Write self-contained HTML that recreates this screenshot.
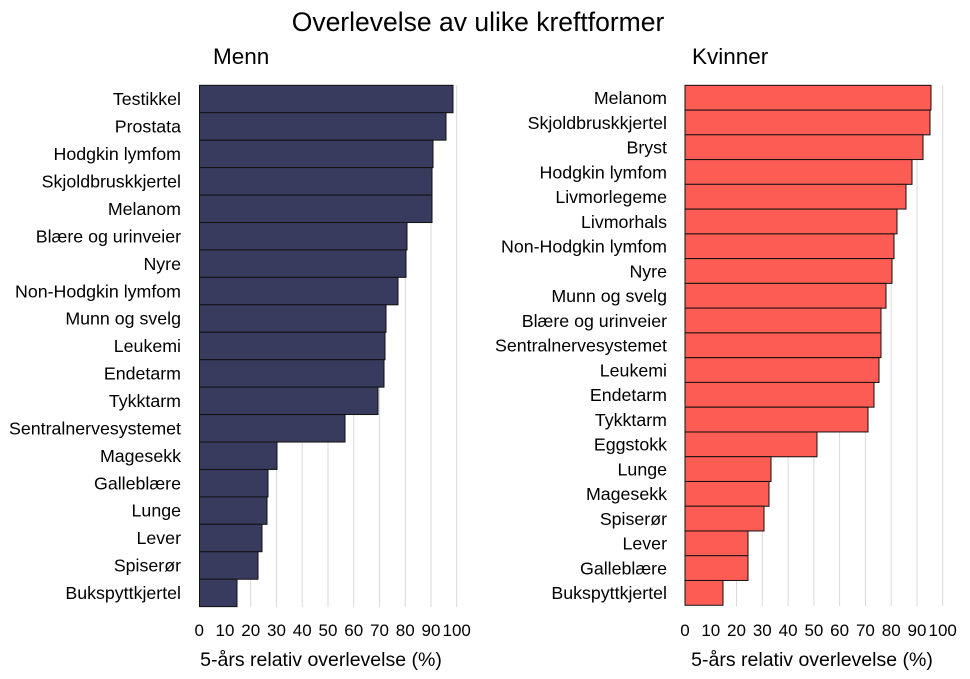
<!DOCTYPE html>
<html><head><meta charset="utf-8"><style>
html,body{margin:0;padding:0;background:#fff}
svg{display:block;font-family:"Liberation Sans",sans-serif}
</style></head><body>
<svg width="970" height="679" viewBox="0 0 970 679" xmlns="http://www.w3.org/2000/svg">
<text x="478" y="31" font-size="26.5" text-anchor="middle" fill="#000">Overlevelse av ulike kreftformer</text>
<text x="213" y="64" font-size="22.5" fill="#000">Menn</text>
<text x="692" y="64" font-size="22.5" fill="#000">Kvinner</text>
<g stroke="#d9d9d9" stroke-width="1">
<line x1="225" y1="85" x2="225" y2="607"/><line x1="250.7" y1="85" x2="250.7" y2="607"/><line x1="276.5" y1="85" x2="276.5" y2="607"/><line x1="302.2" y1="85" x2="302.2" y2="607"/><line x1="328" y1="85" x2="328" y2="607"/><line x1="353.7" y1="85" x2="353.7" y2="607"/><line x1="379.5" y1="85" x2="379.5" y2="607"/><line x1="405.2" y1="85" x2="405.2" y2="607"/><line x1="431" y1="85" x2="431" y2="607"/><line x1="456.7" y1="85" x2="456.7" y2="607"/>
<line x1="710.8" y1="85" x2="710.8" y2="606"/><line x1="736.5" y1="85" x2="736.5" y2="606"/><line x1="762.3" y1="85" x2="762.3" y2="606"/><line x1="788.1" y1="85" x2="788.1" y2="606"/><line x1="813.9" y1="85" x2="813.9" y2="606"/><line x1="839.6" y1="85" x2="839.6" y2="606"/><line x1="865.4" y1="85" x2="865.4" y2="606"/><line x1="891.2" y1="85" x2="891.2" y2="606"/><line x1="917" y1="85" x2="917" y2="606"/><line x1="942.7" y1="85" x2="942.7" y2="606"/>
</g>
<g fill="#383b5e" stroke="#111" stroke-width="1">
<rect x="199.5" y="85.3" width="253.5" height="27.44"/>
<rect x="199.5" y="112.7" width="246.5" height="27.44"/>
<rect x="199.5" y="140.2" width="233.5" height="27.44"/>
<rect x="199.5" y="167.6" width="232.5" height="27.44"/>
<rect x="199.5" y="195.1" width="232.5" height="27.44"/>
<rect x="199.5" y="222.5" width="207.5" height="27.44"/>
<rect x="199.5" y="249.9" width="206.5" height="27.44"/>
<rect x="199.5" y="277.4" width="198.5" height="27.44"/>
<rect x="199.5" y="304.8" width="186.5" height="27.44"/>
<rect x="199.5" y="332.3" width="185.5" height="27.44"/>
<rect x="199.5" y="359.7" width="184.5" height="27.44"/>
<rect x="199.5" y="387.1" width="178.5" height="27.44"/>
<rect x="199.5" y="414.6" width="145.5" height="27.44"/>
<rect x="199.5" y="442.0" width="77.5" height="27.44"/>
<rect x="199.5" y="469.5" width="68.5" height="27.44"/>
<rect x="199.5" y="496.9" width="67.5" height="27.44"/>
<rect x="199.5" y="524.3" width="62.5" height="27.44"/>
<rect x="199.5" y="551.8" width="58.5" height="27.44"/>
<rect x="199.5" y="579.2" width="37.5" height="27.44"/>
</g>
<g fill="#fd5c54" stroke="#111" stroke-width="1">
<rect x="685" y="85.3" width="246" height="24.76"/>
<rect x="685" y="110.1" width="245" height="24.76"/>
<rect x="685" y="134.8" width="238" height="24.76"/>
<rect x="685" y="159.6" width="227" height="24.76"/>
<rect x="685" y="184.3" width="221" height="24.76"/>
<rect x="685" y="209.1" width="212" height="24.76"/>
<rect x="685" y="233.9" width="209" height="24.76"/>
<rect x="685" y="258.6" width="207" height="24.76"/>
<rect x="685" y="283.4" width="201" height="24.76"/>
<rect x="685" y="308.1" width="196" height="24.76"/>
<rect x="685" y="332.9" width="196" height="24.76"/>
<rect x="685" y="357.7" width="194" height="24.76"/>
<rect x="685" y="382.4" width="189" height="24.76"/>
<rect x="685" y="407.2" width="183" height="24.76"/>
<rect x="685" y="432.0" width="132" height="24.76"/>
<rect x="685" y="456.7" width="86" height="24.76"/>
<rect x="685" y="481.5" width="84" height="24.76"/>
<rect x="685" y="506.2" width="79" height="24.76"/>
<rect x="685" y="531.0" width="63" height="24.76"/>
<rect x="685" y="555.7" width="63" height="24.76"/>
<rect x="685" y="580.5" width="38" height="24.76"/>
</g>
<g font-size="17.8" text-anchor="end" fill="#000">
<text x="181" y="105">Testikkel</text>
<text x="181" y="132.5">Prostata</text>
<text x="181" y="160">Hodgkin lymfom</text>
<text x="181" y="187.5">Skjoldbruskkjertel</text>
<text x="181" y="215">Melanom</text>
<text x="181" y="242.5">Blære og urinveier</text>
<text x="181" y="270">Nyre</text>
<text x="181" y="297.5">Non-Hodgkin lymfom</text>
<text x="181" y="324.5">Munn og svelg</text>
<text x="181" y="352">Leukemi</text>
<text x="181" y="379.5">Endetarm</text>
<text x="181" y="407">Tykktarm</text>
<text x="181" y="434.5">Sentralnervesystemet</text>
<text x="181" y="462">Magesekk</text>
<text x="181" y="489.5">Galleblære</text>
<text x="181" y="516.5">Lunge</text>
<text x="181" y="544">Lever</text>
<text x="181" y="571.5">Spiserør</text>
<text x="181" y="599">Bukspyttkjertel</text>
</g>
<g font-size="17.8" text-anchor="end" fill="#000">
<text x="667" y="104">Melanom</text>
<text x="667" y="128.8">Skjoldbruskkjertel</text>
<text x="667" y="153.5">Bryst</text>
<text x="667" y="178.3">Hodgkin lymfom</text>
<text x="667" y="203">Livmorlegeme</text>
<text x="667" y="227.8">Livmorhals</text>
<text x="667" y="252.5">Non-Hodgkin lymfom</text>
<text x="667" y="277.3">Nyre</text>
<text x="667" y="302">Munn og svelg</text>
<text x="667" y="326.8">Blære og urinveier</text>
<text x="667" y="351.5">Sentralnervesystemet</text>
<text x="667" y="376.3">Leukemi</text>
<text x="667" y="401">Endetarm</text>
<text x="667" y="425.8">Tykktarm</text>
<text x="667" y="450.5">Eggstokk</text>
<text x="667" y="475.3">Lunge</text>
<text x="667" y="500">Magesekk</text>
<text x="667" y="524.8">Spiserør</text>
<text x="667" y="549.5">Lever</text>
<text x="667" y="574.3">Galleblære</text>
<text x="667" y="599">Bukspyttkjertel</text>
</g>
<g font-size="17" text-anchor="middle" fill="#000">
<text x="199.2" y="636">0</text><text x="225" y="636">10</text><text x="250.7" y="636">20</text><text x="276.5" y="636">30</text><text x="302.2" y="636">40</text><text x="328" y="636">50</text><text x="353.7" y="636">60</text><text x="379.5" y="636">70</text><text x="405.2" y="636">80</text><text x="431" y="636">90</text><text x="456.7" y="636">100</text>
<text x="685" y="636">0</text><text x="710.8" y="636">10</text><text x="736.5" y="636">20</text><text x="762.3" y="636">30</text><text x="788.1" y="636">40</text><text x="813.9" y="636">50</text><text x="839.6" y="636">60</text><text x="865.4" y="636">70</text><text x="891.2" y="636">80</text><text x="917" y="636">90</text><text x="942.7" y="636">100</text>
</g>
<g font-size="19.5" text-anchor="middle" fill="#000">
<text x="321" y="666">5-års relativ overlevelse (%)</text>
<text x="812" y="666">5-års relativ overlevelse (%)</text>
</g>
</svg>
</body></html>
